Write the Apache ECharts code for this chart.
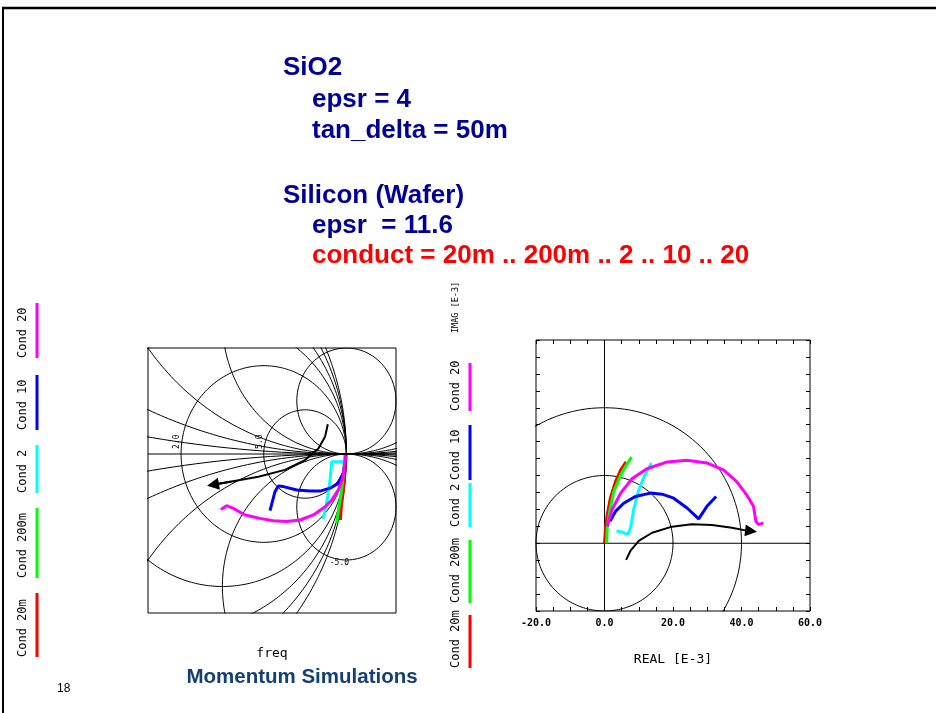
<!DOCTYPE html>
<html>
<head>
<meta charset="utf-8">
<script src="https://cdn.jsdelivr.net/npm/echarts@6.0.0/dist/echarts.min.js"></script>
<style>
  html, body { margin: 0; padding: 0; background: #fff; }
  #main { width: 936px; height: 713px; }
</style>
</head>
<body>
<div id="main"></div>
<script>
// 图例 (从下往上)
const condNames = ['Cond 20m', 'Cond 200m', 'Cond 2', 'Cond 10', 'Cond 20'];
const condColors = ['#ff0000', '#00ff00', '#00ffff', '#0000ff', '#ff00ff'];

// 左图: Smith 圆图, 反射系数 (实部, 虚部)
const smithXRange = [0.2, 1.2];
const smithYRange = [-0.6, 0.4];
const rCircles = [0, 0.2, 0.5, 1, 2, 5];
const xCircles = [0.2, 0.5, 1, 2, 5, -0.2, -0.5, -1, -2, -5];
const rLabels = [2, 5];
const xLabels = [-5];

const smith20m = [[0.998,-0.004],[0.994,-0.060],[0.988,-0.136],[0.980,-0.192],[0.976,-0.249]];
const smith200m = [[0.994,-0.004],[0.988,-0.079],[0.978,-0.155],[0.968,-0.211],[0.961,-0.260]];
const smith2 = [[0.996,-0.010],[0.992,-0.029],[0.941,-0.029],[0.934,-0.098],[0.926,-0.155],[0.916,-0.204],[0.906,-0.245]];
const smith10 = [[0.998,-0.005],[0.994,-0.042],[0.987,-0.073],[0.967,-0.111],[0.934,-0.129],[0.894,-0.140],
  [0.853,-0.140],[0.800,-0.136],[0.746,-0.123],[0.725,-0.121],[0.712,-0.142],[0.692,-0.214]];
const smith20 = [[0.998,-0.005],[0.994,-0.029],[0.985,-0.092],[0.967,-0.136],[0.941,-0.174],[0.914,-0.199],
  [0.867,-0.230],[0.813,-0.249],[0.759,-0.255],[0.705,-0.252],[0.652,-0.243],[0.591,-0.230],
  [0.544,-0.205],[0.517,-0.195],[0.494,-0.209]];
const smithData = [smith20m, smith200m, smith2, smith10, smith20];
const smithArrow = [[0.925,0.112],[0.914,0.065],[0.887,0.021],[0.833,-0.023],[0.752,-0.060],[0.645,-0.086],[0.537,-0.104],[0.462,-0.116]];

// 右图: 极坐标 REAL / IMAG [E-3]
const polarTicks = [-20, 0, 20, 40, 60];
const magCircles = [20, 40];
const pol20m = [[0,0],[0.3,4.6],[0.8,8.4],[1.7,13.3],[3.2,18.2],[4.7,21.6],[6.3,24.0]];
const pol200m = [[0.6,0],[0.8,4.6],[1.5,9.4],[2.7,15.2],[4.7,20.1],[6.3,23.0],[7.9,25.4]];
const pol2 = [[3.5,3.6],[5.1,3.3],[6.8,2.6],[7.6,4.5],[8.5,9.9],[10.0,15.7],[11.5,19.6],[13.7,23.7]];
const pol10 = [[1.6,6.5],[3.2,9.4],[5.6,11.8],[9.0,13.8],[13.4,14.8],[16.8,14.5],[20.2,13.3],
  [24.1,10.4],[27.5,7.2],[29.9,10.9],[32.6,13.8]];
const pol20 = [[0.8,5.0],[2.2,9.9],[4.7,14.8],[8.1,19.1],[12.4,22.0],[18.3,24.0],[24.1,24.5],[29.9,23.7],
  [34.8,21.6],[38.6,18.2],[41.5,14.3],[43.5,10.9],[44.2,6.5],[45.0,5.5],[46.4,6.0]];
const polarData = [pol20m, pol200m, pol2, pol10, pol20];
const polarArrow = [[6.3,-4.9],[7.6,-2.2],[10.0,0.7],[13.9,3.1],[19.7,4.9],[25.5,5.6],[31.4,5.4],[37.2,4.6],[41.1,3.8],[42.8,3.6]];

const mono = '"DejaVu Sans Mono", monospace';
const sans = '"Liberation Sans", Arial, sans-serif';

function circlePts(cx, cy, r) {
  const pts = [];
  for (let i = 0; i <= 720; i++) {
    const a = i / 720 * 2 * Math.PI;
    pts.push([cx + r * Math.cos(a), cy + r * Math.sin(a)]);
  }
  return pts;
}

function gridLine(data, g) {
  return {
    type: 'line', xAxisIndex: g ? 1 : 0, yAxisIndex: g ? 1 : 0,
    data: data, symbol: 'none', silent: true, clip: true, z: 1,
    lineStyle: { color: '#000', width: 1 }
  };
}

function arrow(data, g) {
  const n = data.length;
  return [{
    type: 'line', xAxisIndex: g, yAxisIndex: g, data: data, symbol: 'none', z: 4,
    lineStyle: { color: '#000', width: 2 }
  }, {
    type: 'lines', coordinateSystem: 'cartesian2d', xAxisIndex: g, yAxisIndex: g, z: 4,
    symbol: ['none', 'triangle'], symbolSize: 12,
    lineStyle: { color: '#000', width: 2, opacity: 1 },
    data: [{ coords: [data[n - 2], data[n - 1]] }]
  }];
}

let series = [];
rCircles.forEach(r => series.push(gridLine(circlePts(r / (1 + r), 0, 1 / (1 + r)), 0)));
xCircles.forEach(x => series.push(gridLine(circlePts(1, 1 / x, 1 / Math.abs(x)), 0)));
series.push(gridLine([[smithXRange[0], 0], [smithXRange[1], 0]], 0));

const pMin = polarTicks[0], pMax = polarTicks[polarTicks.length - 1];
magCircles.forEach(m => series.push(gridLine(circlePts(0, 0, m), 1)));
series.push(gridLine([[pMin, 0], [pMax, 0]], 1));
series.push(gridLine([[0, pMin], [0, pMax]], 1));

smithData.forEach((d, i) => series.push({
  type: 'line', name: condNames[i], xAxisIndex: 0, yAxisIndex: 0, data: d, symbol: 'none', z: 3,
  lineStyle: { color: condColors[i], width: 3 }
}));
polarData.forEach((d, i) => series.push({
  type: 'line', name: condNames[i], xAxisIndex: 1, yAxisIndex: 1, data: d, symbol: 'none', z: 3,
  lineStyle: { color: condColors[i], width: 3 }
}));
series = series.concat(arrow(smithArrow, 0), arrow(polarArrow, 1));

const tickCfg = {
  axisLine: { show: false, onZero: false },
  axisTick: { show: true, inside: true, length: 4, lineStyle: { color: '#000' } },
  minorTick: { show: true, splitNumber: 4, length: 4, lineStyle: { color: '#000' } },
  splitLine: { show: false },
  min: pMin, max: pMax, interval: polarTicks[1] - polarTicks[0]
};

// 文字和图例
const graphic = [
  { type: 'line', shape: { x1: 2, y1: 8, x2: 936, y2: 8 }, style: { stroke: '#000', lineWidth: 2.5 } },
  { type: 'line', shape: { x1: 3, y1: 8, x2: 3, y2: 713 }, style: { stroke: '#000', lineWidth: 2 } }
];
const slideText = [
  ['SiO2', 283, 68, '#000099'],
  ['epsr = 4', 312, 100, '#000099'],
  ['tan_delta = 50m', 312, 131, '#000099'],
  ['Silicon (Wafer)', 283, 196, '#000099'],
  ['epsr  = 11.6', 312, 226, '#000099'],
  ['conduct = 20m .. 200m .. 2 .. 10 .. 20', 312, 256, '#ff0000']
];
slideText.forEach(t => graphic.push({
  type: 'text', x: t[1], y: t[2],
  style: { text: t[0], fill: t[3], fontFamily: sans, fontWeight: 'bold', fontSize: 26, align: 'left', verticalAlign: 'middle' }
}));
graphic.push({ type: 'text', x: 302, y: 677,
  style: { text: 'Momentum Simulations', fill: '#133f76', fontFamily: sans, fontWeight: 'bold', fontSize: 20.5, align: 'center', verticalAlign: 'middle' } });
graphic.push({ type: 'text', x: 57, y: 689,
  style: { text: '18', fill: '#000', fontFamily: sans, fontSize: 12, align: 'left', verticalAlign: 'middle' } });
graphic.push({ type: 'text', x: 456, y: 333, rotation: Math.PI / 2,
  style: { text: 'IMAG [E-3]', fill: '#000', fontFamily: mono, fontSize: 8.5, align: 'left', verticalAlign: 'middle' } });

const legLeft = [[593, 657], [508, 578], [445, 493], [375, 430], [303, 358]];
const legMid = [[615, 668], [540, 603], [483, 527], [425, 480], [363, 411]];
[[legLeft, 23, 37], [legMid, 456, 470]].forEach(L => {
  L[0].forEach((p, i) => {
    graphic.push({ type: 'line', shape: { x1: L[2], y1: p[0], x2: L[2], y2: p[1] },
      style: { stroke: condColors[i], lineWidth: 3 } });
    graphic.push({ type: 'text', x: L[1], y: p[1], rotation: Math.PI / 2,
      style: { text: condNames[i], fill: '#000', fontFamily: mono, fontSize: 12, align: 'left', verticalAlign: 'middle' } });
  });
});

const chart = echarts.init(document.getElementById('main'));
chart.setOption({
  animation: false,
  backgroundColor: '#fff',
  grid: [
    { left: 148, top: 348, width: 248, height: 265, show: true, borderColor: '#000', borderWidth: 1, backgroundColor: 'transparent' },
    { left: 536, top: 340, width: 274, height: 271, show: true, borderColor: '#000', borderWidth: 1, backgroundColor: 'transparent' }
  ],
  xAxis: [
    { type: 'value', gridIndex: 0, min: smithXRange[0], max: smithXRange[1],
      axisLine: { show: false, onZero: false }, axisTick: { show: false }, axisLabel: { show: false }, splitLine: { show: false },
      name: 'freq', nameLocation: 'middle', nameGap: 34,
      nameTextStyle: { fontFamily: mono, fontSize: 13, color: '#000' } },
    Object.assign({ type: 'value', gridIndex: 1, position: 'bottom',
      axisLabel: { show: true, margin: 7, color: '#000', fontFamily: mono, fontSize: 10, fontWeight: 'bold',
        formatter: v => v.toFixed(1) },
      name: 'REAL [E-3]', nameLocation: 'middle', nameGap: 42,
      nameTextStyle: { fontFamily: mono, fontSize: 13, color: '#000' } }, tickCfg),
    Object.assign({ type: 'value', gridIndex: 1, position: 'top', axisLabel: { show: false } }, tickCfg)
  ],
  yAxis: [
    { type: 'value', gridIndex: 0, min: smithYRange[0], max: smithYRange[1],
      axisLine: { show: false, onZero: false }, axisTick: { show: false }, axisLabel: { show: false }, splitLine: { show: false } },
    Object.assign({ type: 'value', gridIndex: 1, position: 'left', axisLabel: { show: false } }, tickCfg),
    Object.assign({ type: 'value', gridIndex: 1, position: 'right', axisLabel: { show: false } }, tickCfg)
  ],
  series: series,
  graphic: graphic
});

// Smith 圆图刻度值
rLabels.forEach(r => {
  const p = chart.convertToPixel({ gridIndex: 0 }, [(r - 1) / (r + 1), 0]);
  graphic.push({ type: 'text', x: p[0] - 4, y: p[1] - 5, rotation: Math.PI / 2,
    style: { text: r.toFixed(1), fill: '#000', fontFamily: mono, fontSize: 8, align: 'left', verticalAlign: 'middle' } });
});
xLabels.forEach(x => {
  const p = chart.convertToPixel({ gridIndex: 0 }, [1, 2 / x]);
  graphic.push({ type: 'text', x: p[0] - 7, y: p[1] + 3,
    style: { text: x.toFixed(1), fill: '#000', fontFamily: mono, fontSize: 8, align: 'center', verticalAlign: 'middle' } });
});
chart.setOption({ graphic: graphic });
</script>
</body>
</html>
